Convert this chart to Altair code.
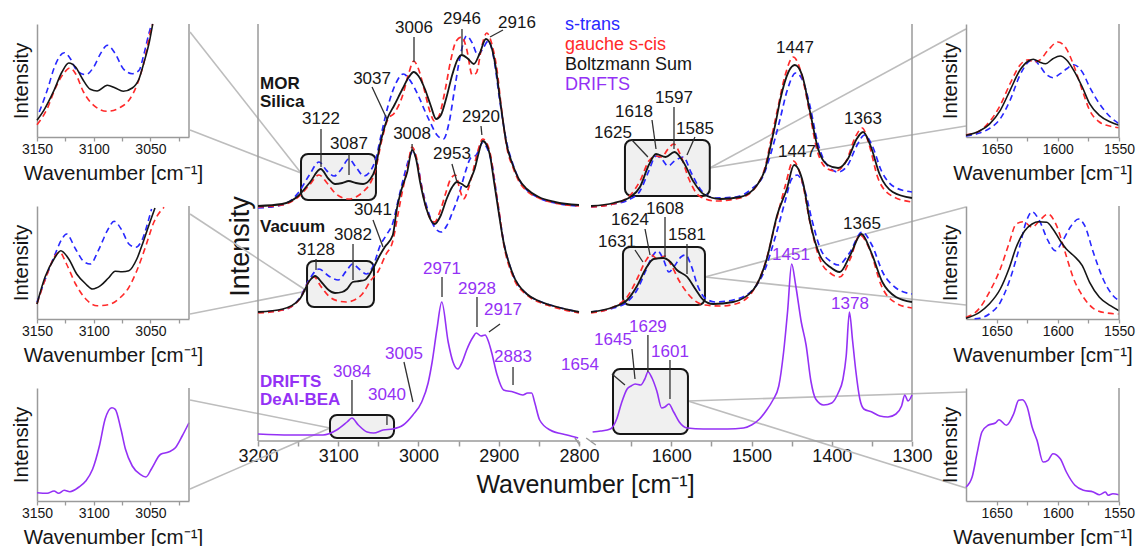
import altair as alt
import pandas as pd

FONT = "Liberation Sans"
INK = "#161616"
GREY = "#9a9a9a"
BLUE = "#2828ff"
RED = "#ff2a2a"
PURPLE = "#9431f5"
DASH = [6, 4]

# ---------------- main spectra: (wavenumber cm-1, intensity a.u.) ----------------
mor_black = [(3200,235),(3170,237),(3150,245),(3135,259),(3122,272),(3112,262),(3104,257),(3095,258),(3087,260),
             (3078,258),(3069,257),(3060,262),(3054,272),(3048,296),(3039,322),(3030,336),(3020,352),(3012,364),
             (3006,369),(3000,365),(2992,352),(2985,336),(2978,322),(2972,326),(2965,344),(2958,366),(2951,382),
             (2946,386),(2938,382),(2931,377),(2924,387),(2916,402),(2910,396),(2904,375),(2898,339),(2890,296),
             (2882,275),(2875,262),(2865,252),(2850,244),(2830,239),(2800,236),
             (1700,235),(1672,238),(1651,244),(1639,254),(1628,276),(1619,287),(1607,284),(1596,289),(1585,279),
             (1572,259),(1560,247),(1539,242),(1514,244),(1493,256),(1483,272),(1476,296),(1470,318),(1464,342),
             (1454,369),(1446,376),(1437,366),(1427,329),(1417,292),(1405,276),(1392,273),(1380,282),(1369,302),
             (1361,309),(1352,296),(1340,266),(1324,249),(1300,243)]
mor_blue = [(3200,233),(3170,236),(3150,248),(3136,266),(3124,279),(3114,270),(3105,265),(3096,272),(3087,282),
            (3078,274),(3068,265),(3060,270),(3054,280),(3046,308),(3038,335),(3028,358),(3019,367),(3010,360),
            (3000,345),(2992,330),(2985,318),(2977,306),(2969,302),(2962,318),(2955,352),(2948,385),(2940,405),
            (2933,398),(2926,386),(2920,392),(2913,400),(2906,382),(2899,342),(2890,298),(2882,276),(2875,262),
            (2865,251),(2850,243),(2830,238),(2800,235),
            (1700,234),(1672,237),(1651,242),(1639,250),(1628,270),(1619,285),(1612,282),(1604,275),(1596,280),
            (1585,284),(1575,268),(1562,250),(1545,243),(1520,244),(1500,252),(1485,266),(1475,290),(1465,320),
            (1455,352),(1445,368),(1437,362),(1428,338),(1418,300),(1405,275),(1392,269),(1380,276),(1369,295),
            (1359,306),(1350,296),(1338,270),(1322,254),(1300,249)]
mor_red = [(3200,234),(3170,236),(3150,244),(3136,256),(3124,266),(3114,258),(3104,248),(3094,243),(3087,242),
           (3078,244),(3068,250),(3060,258),(3054,270),(3046,300),(3038,322),(3030,328),(3020,345),(3012,368),
           (3006,380),(3000,372),(2993,352),(2986,330),(2980,320),(2974,326),(2967,350),(2960,380),(2953,400),
           (2946,404),(2940,392),(2933,366),(2928,368),(2921,395),(2915,408),(2908,395),(2902,370),(2897,335),
           (2890,294),(2882,273),(2875,260),(2865,250),(2850,243),(2830,238),(2800,235),
           (1700,234),(1672,237),(1651,246),(1639,260),(1628,280),(1619,285),(1612,284),(1604,292),(1597,297),
           (1588,285),(1578,262),(1565,245),(1545,240),(1514,243),(1493,256),(1483,274),(1476,300),(1468,330),
           (1458,366),(1448,384),(1438,368),(1428,330),(1418,290),(1405,272),(1395,270),(1382,280),(1370,305),
           (1362,313),(1354,298),(1342,262),(1325,245),(1300,239)]

vac_black = [(3200,129),(3169,132),(3148,142),(3135,161),(3129,165),(3120,158),(3112,151),(3104,148),(3095,149),
             (3089,152),(3082,159),(3074,160),(3067,161),(3057,172),(3048,186),(3042,194),(3032,206),(3027,232),
             (3021,252),(3014,269),(3008,291),(3003,282),(2998,259),(2990,232),(2984,220),(2980,217),(2972,226),
             (2965,242),(2958,254),(2952,259),(2946,257),(2940,254),(2935,262),(2930,272),(2925,288),(2920,300),
             (2915,296),(2911,286),(2906,260),(2902,239),(2894,199),(2882,166),(2865,147),(2850,140),(2836,136),
             (2800,129),
             (1700,129),(1672,134),(1655,141),(1642,156),(1632,172),(1622,182),(1610,183),(1601,179),(1593,171),
             (1580,164),(1570,152),(1560,141),(1548,137),(1523,139),(1498,151),(1481,182),(1468,226),(1456,252),
             (1447,276),(1436,259),(1427,219),(1415,186),(1402,174),(1390,169),(1377,186),(1363,207),(1351,189),
             (1337,159),(1320,144),(1300,139)]
vac_blue = [(3200,129),(3169,131),(3148,143),(3135,163),(3124,172),(3112,165),(3100,161),(3090,170),(3082,177),
            (3074,172),(3065,167),(3056,176),(3048,195),(3040,206),(3032,218),(3025,242),(3018,265),(3012,282),
            (3007,290),(3002,280),(2996,255),(2988,230),(2980,214),(2972,209),(2965,215),(2958,228),(2950,245),
            (2942,268),(2935,283),(2928,286),(2920,298),(2914,292),(2908,275),(2902,242),(2894,200),(2882,166),
            (2865,147),(2850,140),(2836,136),(2800,129),
            (1700,129),(1672,133),(1655,139),(1642,152),(1632,170),(1624,184),(1617,190),(1610,182),(1603,169),
            (1596,175),(1588,184),(1582,186),(1575,175),(1567,155),(1558,143),(1545,139),(1523,141),(1500,150),
            (1484,170),(1470,205),(1458,240),(1450,262),(1443,266),(1434,252),(1425,222),(1414,192),(1402,180),
            (1392,176),(1378,188),(1362,209),(1350,196),(1336,168),(1320,153),(1300,147)]
vac_red = [(3200,128),(3169,131),(3148,142),(3136,160),(3130,164),(3122,155),(3112,145),(3100,140),(3090,139),
           (3080,141),(3070,147),(3060,160),(3050,170),(3041,186),(3032,200),(3026,225),(3020,250),(3014,272),
           (3008,294),(3003,285),(2997,258),(2990,232),(2984,221),(2980,219),(2973,230),(2966,248),(2960,262),
           (2954,266),(2948,250),(2944,242),(2938,252),(2932,270),(2926,290),(2920,302),(2915,298),(2910,285),
           (2905,258),(2900,232),(2894,198),(2882,164),(2865,146),(2850,139),(2836,135),(2800,128),
           (1700,128),(1672,134),(1655,144),(1642,163),(1632,180),(1625,186),(1617,182),(1608,185),(1600,176),
           (1590,160),(1580,148),(1570,140),(1558,136),(1540,135),(1520,137),(1500,148),(1484,175),(1470,218),
           (1458,255),(1448,280),(1437,260),(1427,218),(1414,180),(1402,168),(1390,164),(1377,182),(1365,206),
           (1352,190),(1338,155),(1320,138),(1300,133)]

drifts = [(3200,7),(3160,6),(3119,6),(3102,11),(3089,19),(3083,23),(3075,16),(3064,9),(3056,8),(3044,11),
          (3032,12),(3019,16),(3007,26),(2996,39),(2988,58),(2983,79),(2977,112),(2971,139),(2963,99),(2957,79),
          (2951,72),(2945,80),(2940,91),(2932,104),(2928,108),(2922,105),(2917,106),(2913,100),(2909,89),
          (2902,66),(2894,51),(2882,49),(2870,46),(2864,48),(2859,48),(2855,38),(2849,21),(2836,11),(2815,6),
          (2801,3),
          (1698,9),(1688,10),(1676,12),(1668,22),(1662,38),(1655,52),(1650,55),(1645,57),(1638,56),(1633,62),
          (1629,69),(1624,63),(1618,50),(1612,33),(1608,34),(1603,37),(1597,29),(1590,19),(1580,13),(1560,12),
          (1530,12),(1510,13),(1500,16),(1490,22),(1482,30),(1474,40),(1466,55),(1460,89),(1455,130),(1450,177),
          (1445,156),(1438,119),(1432,96),(1426,60),(1420,42),(1410,36),(1400,38),(1392,48),(1386,62),(1382,85),
          (1378,129),(1374,100),(1370,70),(1365,42),(1360,32),(1350,29),(1340,25),(1330,24),(1320,27),(1313,35),
          (1309,46),(1305,40),(1300,46)]

# ---------------- inset spectra: (wavenumber, intensity a.u.) ----------------
in_mor_hi_black = [(3150,16.7),(3144,26.7),(3135,46.7),(3128,65),(3122,74),(3116,70),(3110,58.3),(3103,47.7),
                   (3097,46),(3088,51.7),(3081,49),(3074,45.7),(3066,49),(3060,58.3),(3056,73.3),(3051,95),(3048,113)]
in_mor_hi_blue = [(3148,25),(3141,46.7),(3134,71.7),(3126,84.3),(3121,79),(3115,66.7),(3107,62.3),(3100,70),
                  (3094,83.3),(3088,91.7),(3081,83.3),(3074,68.3),(3066,63.3),(3060,66.7),(3056,81.7),(3051,105),(3049,113)]
in_mor_hi_red = [(3150,12.3),(3141,28.3),(3134,48.3),(3126,64.3),(3121,69),(3116,63.3),(3109,45),(3100,31.7),
                 (3088,25.7),(3076,30),(3068,38.3),(3062,51.7),(3056,73.3),(3050,105),(3048,113)]
in_vac_hi_black = [(3150,15),(3143,41.7),(3135,60),(3129,68.3),(3122,60),(3115,45),(3107,35),(3101,30),(3094,33.3),
                   (3087,41),(3081,47.7),(3075,47.3),(3069,48.3),(3062,60),(3056,78.3),(3050,98.3),(3046,111)]
in_vac_hi_blue = [(3150,16.7),(3141,45),(3134,65),(3128,80),(3124,85),(3116,70),(3109,57.7),(3103,55),(3096,68.3),
                  (3088,88.3),(3082,97.7),(3075,88.3),(3069,75),(3063,71.7),(3057,80),(3051,101.7),(3049,110)]
in_vac_hi_red = [(3150,15),(3141,45),(3134,63.3),(3130,66.7),(3124,55),(3116,35),(3107,20),(3097,13.3),(3087,14.3),
                 (3078,20),(3069,31.7),(3062,48.3),(3054,73.3),(3047,96.7),(3038,111.7)]
in_drifts_hi = [(3150,8.3),(3141,7.7),(3135,10),(3131,7.7),(3126,10.7),(3121,9.3),(3113,14),(3107,20),(3101,31.7),
                (3095,55),(3090,81.7),(3084,93.3),(3081,91.7),(3076,71.7),(3072,51.7),(3066,35),(3059,26.7),(3054,24),
                (3049,32.3),(3041,46.7),(3034,49),(3028,53.3),(3022,65),(3016,78.3)]

in_mor_lo_black = [(1675,1.7),(1664,6),(1656,12.7),(1647,26.7),(1639,46.7),(1631,66.7),(1624,76),(1620,77.7),
                   (1615,75),(1610,73.3),(1604,78.3),(1598,81),(1593,77.3),(1587,66.7),(1580,50),(1574,33.3),
                   (1566,21.7),(1557,15),(1550,11.7)]
in_mor_lo_blue = [(1675,1),(1664,4),(1656,8.3),(1647,18.3),(1639,36.7),(1631,61.7),(1624,75),(1620,77.3),(1615,71.7),
                  (1610,63.3),(1604,59.3),(1598,63.3),(1593,68),(1587,72.3),(1580,65),(1574,50),(1566,33.3),
                  (1557,20),(1550,13.3)]
in_mor_lo_red = [(1675,2.3),(1664,6),(1656,15),(1647,31.7),(1639,53.3),(1631,71.7),(1624,77.3),(1620,75),(1615,76.7),
                 (1608,86.7),(1600,95),(1593,88.3),(1587,71.7),(1580,46.7),(1574,26.7),(1566,15),(1557,10.7),(1550,9.3)]
in_vac_lo_black = [(1675,0.7),(1664,6.7),(1656,15),(1647,30),(1640,50),(1634,71.7),(1627,88.3),(1621,95),(1616,97.3),
                   (1609,96.7),(1604,90),(1598,78.3),(1593,70),(1587,63.3),(1580,53.3),(1574,36.7),(1566,21.7),
                   (1557,13.3),(1550,8.3)]
in_vac_lo_blue = [(1668,0.3),(1664,0.7),(1656,5),(1647,16.7),(1639,40),(1631,73.3),(1626,96.7),(1621,107.3),
                  (1615,98.3),(1608,78.3),(1602,68.3),(1596,78.3),(1589,93.3),(1583,100),(1578,93.3),(1571,66.7),
                  (1563,40),(1556,25),(1550,18.3)]
in_vac_lo_red = [(1675,1.7),(1664,10.7),(1656,26.7),(1647,50),(1640,75),(1634,95),(1628,97.3),(1621,91.7),(1615,98.3),
                 (1608,105),(1601,93.3),(1594,66.7),(1587,40),(1579,21.7),(1571,10.7),(1560,6),(1550,5)]
in_drifts_lo = [(1675,14),(1670,24),(1666,47.3),(1662,69),(1657,75.7),(1651,78),(1648,81.3),(1642,75.7),(1636,87.3),
                (1632,100.7),(1629,101.3),(1625,94),(1621,74),(1617,60.7),(1612,39),(1608,40.7),(1604,47.3),
                (1598,42.3),(1593,29),(1586,15.7),(1579,10.7),(1571,9),(1566,6.3),(1561,9),(1559,5.7),(1555,7.3),
                (1550,6.3)]

# ---------------- annotations: (text, wavenumber, intensity) ----------------
peak_labels_black = [("3006",3005.6,413),("2946",2945.8,422),("2916",2877.3,418),("3037",3057.9,362),
                     ("3122",3121.5,322),("3087",3086.6,297),("1447",1445.8,393),("1363",1361.1,322),
                     ("1597",1596.6,343),("1618",1646.5,329),("1625",1672.6,308),("1585",1570.5,312),
                     ("3008",3008.0,307),("2920",2922.1,324),("2953",2958.3,287),("3041",3056.7,231),
                     ("3128",3127.7,191),("3082",3081.6,206),("1447",1443.3,289),("1365",1362.4,217),
                     ("1608",1607.8,232),("1624",1651.5,221),("1631",1667.7,199),("1581",1580.4,206)]
peak_labels_purple = [("2971",2970.7,172),("2928",2927.1,152),("2917",2894.7,131),("3005",3018.1,87),
                      ("2883",2882.2,84),("3084",3082.9,69),("3040",3039.3,46),("1654",1713.8,76),
                      ("1645",1672.6,101),("1629",1629.1,114),("1601",1601.6,89),("1451",1450.8,186),
                      ("1378",1377.3,137)]
leaders = [(3005.6,404,3005.6,379),(2945.8,412,2945.8,387),(2894.7,411,2910.9,404),(3057.9,354,3039.3,322),
           (3121.5,312,3121.5,274),(3086.6,287,3086.6,266),(1596.6,334,1596.6,292),(1624.0,321,1619.0,292),
           (1649.0,301,1629.1,284),(1570.5,304,1580.4,286),
           (3008.0,297,3008.0,291),(2922.1,315,2921.0,306),(2958.3,277,2952.0,259),(3056.7,221,3044.2,194),
           (3127.7,182,3127.7,171),(3081.6,197,3081.6,161),(1607.8,224,1607.8,184),(1632.7,212,1626.5,186),
           (1645.2,191,1635.3,179),(1580.4,197,1580.4,167),
           (2970.7,164,2970.7,144),(2927.1,144,2927.1,114),(2898.4,117,2912.2,109),(3018.1,79,3006.9,39),
           (2882.2,74,2882.2,56),(3082.9,61,3082.9,26),(3039.3,26,3039.3,16),(1673.9,67,1657.7,56),
           (1649.0,92,1645.2,62),(1629.1,106,1629.1,69),(1601.6,81,1601.6,42)]
panel_names = [("MOR",3197.5,357,INK),("Silica",3197.5,339,INK),("Vacuum",3197.5,214,INK),
               ("DRIFTS",3197.5,59,PURPLE),("DeAl-BEA",3197.5,41,PURPLE)]
legend_items = [("s-trans",2817.4,416,BLUE),("gauche s-cis",2817.4,396,RED),
                ("Boltzmann Sum",2817.4,376,INK),("DRIFTS",2817.4,356,PURPLE)]
zoom_boxes = [(3146.4,3053.0,287,241),(3138.9,3055.5,180,134),(3110.3,3030.5,26,3),
              (1657.7,1552.0,301,245),(1660.2,1558.0,194,136),(1672.6,1579.2,72,7)]
connectors = [(3146.4,268,3284.7,409),(3146.4,268,3284.7,311),(3138.9,150,3284.7,227),(3138.9,150,3284.7,127),
              (3110.3,13,3284.7,41),(3110.3,13,3284.7,-48),(1552.0,273,1232.8,412),(1552.0,273,1232.8,315),
              (1558.0,164,1232.8,234),(1558.0,164,1232.8,136),(1579.2,40,1232.8,49),(1579.2,40,1232.8,-47)]
frame_lines = [(3200,0,3200,417),(1300,0,1300,417),(3200,0,2800,0),(1700,0,1300,0),
               (2805,3,2799,-4),(1706,3,1694,-4)]
main_ticks = [3200,3150,3100,3050,3000,2950,2900,2850,2800,1650,1600,1550,1500,1450,1400,1350,1300]
inset_hi_ticks = [3150,3125,3100,3075,3050,3025]
inset_lo_ticks = [1650,1625,1600,1575,1550]


def to_u(wn):
    # broken axis: 3200-2800 on the left, 1700-1300 on the right
    return 3200.0 - wn if wn >= 2000 else 415.0 + (1700.0 - wn)


def spec_df(pairs):
    return pd.DataFrame({"u": [to_u(w) for w, _ in pairs],
                         "h": [v for _, v in pairs],
                         "seg": ["hi" if w >= 2000 else "lo" for w, _ in pairs]})


def seg_df(rows):
    return pd.DataFrame({"u": [to_u(r[0]) for r in rows], "h": [r[1] for r in rows],
                         "u2": [to_u(r[2]) for r in rows], "h2": [r[3] for r in rows]})


ROW_H = 113        # height of one inset row
MAIN_H = 417       # drawn height of the main panel (spans the three rows)
xs = alt.Scale(domain=[-18.7, 815], nice=False, zero=False)
ys = alt.Scale(domain=[0, 417], range=[MAIN_H, 0], nice=False, zero=False)
x_axis = alt.Axis(values=[to_u(t) for t in main_ticks],
                  labelExpr="datum.value <= 400 ? (datum.value % 100 == 0 ? format(3200 - datum.value, 'd') : '') : ((datum.value - 415) % 100 == 0 ? format(2115 - datum.value, 'd') : '')",
                  title="Wavenumber [cm⁻¹]", domain=False, grid=False, tickSize=5, tickWidth=1.5, tickColor=GREY,
                  labelFont=FONT, labelFontSize=18, labelColor=INK, labelPadding=1, labelFlush=False,
                  labelOverlap=False, titleFont=FONT, titleFontSize=25, titleFontWeight="normal", titleColor=INK,
                  titlePadding=7, titleX=342, offset=MAIN_H - ROW_H)
y_axis = alt.Axis(title="Intensity", labels=False, ticks=False, domain=False, grid=False, offset=-15,
                  titleFont=FONT, titleFontSize=27, titleFontWeight="normal", titleColor=INK, titlePadding=4,
                  titleY=222)
X = alt.X("u:Q", scale=xs, axis=x_axis)
Y = alt.Y("h:Q", scale=ys, axis=y_axis)


def curve(pairs, color, dash=None, width=1.7):
    kw = dict(color=color, strokeWidth=width, interpolate="monotone")
    if dash:
        kw["strokeDash"] = dash
    return alt.Chart(spec_df(pairs)).mark_line(**kw).encode(x=X, y=Y, detail="seg:N")


def text_df(rows, color=None):
    return pd.DataFrame({"label": [r[0] for r in rows], "u": [to_u(r[1]) for r in rows],
                         "h": [r[2] for r in rows],
                         "color": [color if color else r[3] for r in rows]})


boxes_df = pd.DataFrame({"u": [to_u(b[0]) for b in zoom_boxes], "u2": [to_u(b[1]) for b in zoom_boxes],
                         "h": [b[2] for b in zoom_boxes], "h2": [b[3] for b in zoom_boxes]})

layers = [
    alt.Chart(seg_df(connectors)).mark_rule(color="#bdbdbd", strokeWidth=1.6).encode(x=X, y=Y, x2="u2:Q", y2="h2:Q"),
    alt.Chart(boxes_df).mark_rect(cornerRadius=7, fill="#f0f0f0", stroke=INK, strokeWidth=2).encode(
        x=X, y=Y, x2="u2:Q", y2="h2:Q"),
    alt.Chart(seg_df(frame_lines)).mark_rule(color=GREY, strokeWidth=1.5).encode(x=X, y=Y, x2="u2:Q", y2="h2:Q"),
    curve(mor_blue, BLUE, DASH), curve(mor_red, RED, DASH), curve(mor_black, INK, None, 1.8),
    curve(vac_blue, BLUE, DASH), curve(vac_red, RED, DASH), curve(vac_black, INK, None, 1.8),
    curve(drifts, PURPLE, None, 1.6),
    alt.Chart(seg_df(leaders)).mark_rule(color="#303030", strokeWidth=1.3).encode(x=X, y=Y, x2="u2:Q", y2="h2:Q"),
    alt.Chart(text_df(peak_labels_black, INK)).mark_text(font=FONT, fontSize=17, baseline="middle", align="center").encode(
        x=X, y=Y, text="label:N", color=alt.Color("color:N", scale=None)),
    alt.Chart(text_df(peak_labels_purple, PURPLE)).mark_text(font=FONT, fontSize=17, baseline="middle", align="center").encode(
        x=X, y=Y, text="label:N", color=alt.Color("color:N", scale=None)),
    alt.Chart(text_df(panel_names)).mark_text(font=FONT, fontSize=17, fontWeight="bold", baseline="middle", align="left").encode(
        x=X, y=Y, text="label:N", color=alt.Color("color:N", scale=None)),
    alt.Chart(text_df(legend_items)).mark_text(font=FONT, fontSize=18, baseline="middle", align="left").encode(
        x=X, y=Y, text="label:N", color=alt.Color("color:N", scale=None)),
]
main = alt.layer(*layers).properties(width=669, height=ROW_H)


def inset(series, dom, ticks, width, height=ROW_H):
    xsi = alt.Scale(domain=dom, reverse=True, nice=False, zero=False)
    ysi = alt.Scale(domain=[0, height], nice=False, zero=False)
    xa = alt.Axis(values=ticks, labelExpr="datum.value % 50 == 0 ? format(datum.value, 'd') : ''",
                  title="Wavenumber [cm⁻¹]", grid=False, domainColor=GREY, domainWidth=1.5, tickColor=GREY,
                  tickSize=4, tickWidth=1.3, labelFont=FONT, labelFontSize=14, labelColor=INK, labelPadding=1,
                  labelFlush=False, labelOverlap=False, titleFont=FONT, titleFontSize=20.5,
                  titleFontWeight="normal", titleColor=INK, titlePadding=7)
    ya = alt.Axis(title="Intensity", labels=False, ticks=False, grid=False, domainColor=GREY, domainWidth=1.5,
                  titleFont=FONT, titleFontSize=20.5, titleFontWeight="normal", titleColor=INK, titlePadding=6)
    xe = alt.X("wn:Q", scale=xsi, axis=xa)
    ye = alt.Y("h:Q", scale=ysi, axis=ya)
    lay = []
    for pairs, color, dash, w in series:
        df = pd.DataFrame({"wn": [p[0] for p in pairs], "h": [p[1] for p in pairs]})
        kw = dict(color=color, strokeWidth=w, interpolate="monotone")
        if dash:
            kw["strokeDash"] = dash
        lay.append(alt.Chart(df).mark_line(**kw).encode(x=xe, y=ye))
    fr = pd.DataFrame({"wn": [dom[0]], "h": [0], "h2": [height]})
    lay.append(alt.Chart(fr).mark_rule(color=GREY, strokeWidth=1.5).encode(x=xe, y=ye, y2="h2:Q"))
    return alt.layer(*lay).properties(width=width, height=height)


def blank(width):
    return alt.Chart(pd.DataFrame({"z": [0]})).mark_rule(opacity=0).encode(
        x=alt.value(0), y=alt.value(0)).properties(width=width, height=ROW_H)


HI = [3016, 3150]
LO = [1550, 1675]
cells = [
    inset([(in_mor_hi_blue, BLUE, DASH, 1.6), (in_mor_hi_red, RED, DASH, 1.6), (in_mor_hi_black, INK, None, 1.6)], HI, inset_hi_ticks, 152),
    main,
    inset([(in_mor_lo_blue, BLUE, DASH, 1.6), (in_mor_lo_red, RED, DASH, 1.6), (in_mor_lo_black, INK, None, 1.6)], LO, inset_lo_ticks, 153),
    inset([(in_vac_hi_blue, BLUE, DASH, 1.6), (in_vac_hi_red, RED, DASH, 1.6), (in_vac_hi_black, INK, None, 1.6)], HI, inset_hi_ticks, 152),
    blank(669),
    inset([(in_vac_lo_blue, BLUE, DASH, 1.6), (in_vac_lo_red, RED, DASH, 1.6), (in_vac_lo_black, INK, None, 1.6)], LO, inset_lo_ticks, 153),
    inset([(in_drifts_hi, PURPLE, None, 1.6)], HI, inset_hi_ticks, 152),
    blank(669),
    inset([(in_drifts_lo, PURPLE, None, 1.6)], LO, inset_lo_ticks, 153),
]

chart = alt.concat(*cells, columns=3, spacing={"row": 69, "column": 54}, bounds="flush").properties(
    padding={"left": 10, "top": 9, "right": 0, "bottom": 0}
).configure(font=FONT, view=alt.ViewConfig(stroke="transparent"))

chart.save("out.html", embed_options={"renderer": "svg", "actions": False})
